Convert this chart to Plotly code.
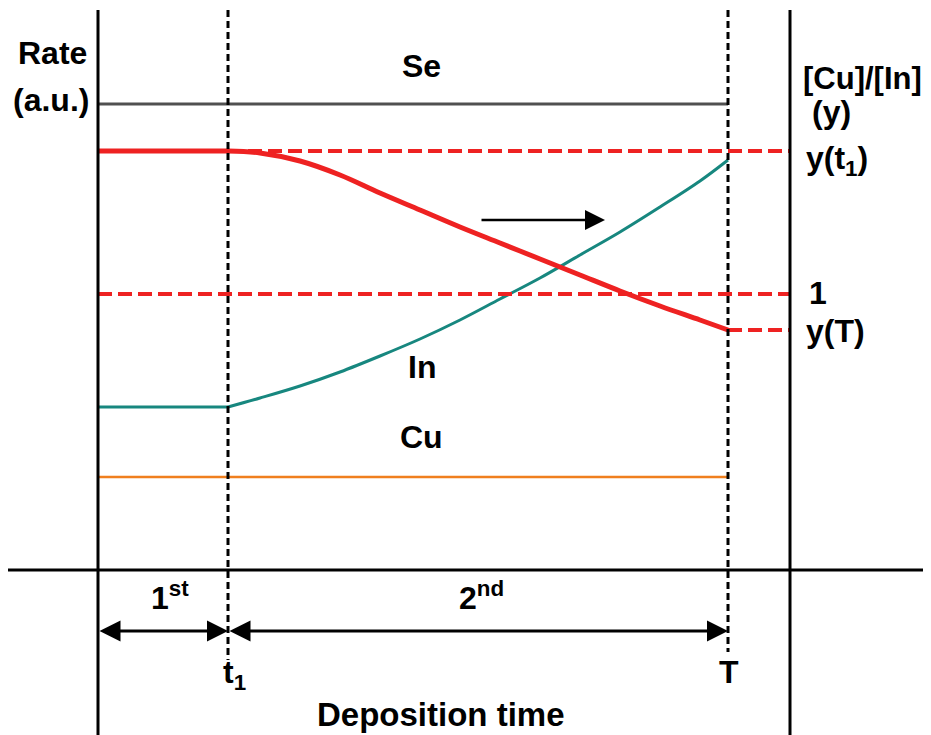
import plotly.graph_objects as go

# ---- schematic data (time axis units / rate axis units) ----
t_start = 98          # start of deposition (left axis)
t1 = 228              # end of 1st stage
t_end = 728           # end of deposition T
t_right = 790         # right axis position

rate_se = 104
rate_cu = 477
y_t1_level = 151      # [Cu]/[In] = y(t1)
y_one_level = 294     # [Cu]/[In] = 1
y_T_level = 330       # [Cu]/[In] = y(T)

# [Cu]/[In] ratio curve (red) during 2nd stage
ratio_t = [228, 260, 300, 340, 380, 420, 460, 500, 540, 580, 620, 660, 700, 728]
ratio_v = [151, 153, 161, 175, 193, 210, 227, 243, 259, 275, 291, 306, 320, 330]

# In rate curve (teal) during 2nd stage
in_t = [228, 260, 300, 340, 380, 420, 460, 500, 540, 580, 620, 660, 700, 728]
in_v = [407, 398, 386, 372, 356, 339, 320, 299, 278, 255, 232, 207, 181, 160]
in_rate_first = 407

FONT = "Liberation Sans"
RED = "#ee2222"
TEAL = "#17877f"
DASH_RED = "14px,6px"

# page body adds an 8px offset; compensate so data units map to screen pixels
OFF = 8

fig = go.Figure()

def line_trace(xs, ys, color, width, dash="solid", shape="linear"):
    fig.add_trace(go.Scatter(x=xs, y=ys, mode="lines",
                             line=dict(color=color, width=width, dash=dash, shape=shape,
                                       smoothing=1.0),
                             hoverinfo="skip"))

# Se rate
line_trace([t_start, t_end], [rate_se, rate_se], "#505050", 3)
# Cu rate
line_trace([t_start, t_end], [rate_cu, rate_cu], "#f07f1e", 2.5)
# In rate: constant in 1st stage, rising in 2nd stage
line_trace([t_start, t1], [in_rate_first, in_rate_first], TEAL, 3)
line_trace(in_t, in_v, TEAL, 3, shape="spline")
# dashed ratio reference levels
line_trace([t1, t_right], [y_t1_level, y_t1_level], RED, 4, DASH_RED)
line_trace([t_start, t_right], [y_one_level, y_one_level], RED, 4, DASH_RED)
line_trace([t_end, t_right], [y_T_level, y_T_level], RED, 4, DASH_RED)
# ratio curve
line_trace([t_start, t1], [y_t1_level, y_t1_level], RED, 5)
line_trace(ratio_t, ratio_v, RED, 5, shape="spline")

# axes lines
shapes = [
    dict(type="line", x0=t_start, x1=t_start, y0=10, y1=740, line=dict(color="black", width=3)),
    dict(type="line", x0=t_right, x1=t_right, y0=10, y1=740, line=dict(color="black", width=3)),
    dict(type="line", x0=0, x1=940, y0=570, y1=570, line=dict(color="black", width=3)),
    dict(type="line", x0=t1, x1=t1, y0=10, y1=660, line=dict(color="black", width=3, dash="7px,4px")),
    dict(type="line", x0=t_end, x1=t_end, y0=10, y1=652, line=dict(color="black", width=3, dash="7px,4px")),
]

def txt(x, y, s, size=32, xanchor="center", yanchor="middle"):
    return dict(x=x, y=y, xref="x", yref="y", text=s, showarrow=False,
                xanchor=xanchor, yanchor=yanchor,
                font=dict(family=FONT, size=size, color="black", weight="bold"))

ann = [
    txt(89, 53, "Rate", xanchor="right"),
    txt(91, 100, "(a.u.)", xanchor="right"),
    txt(421, 66, "Se"),
    txt(801, 78, "[Cu]/[In]", size=31, xanchor="left"),
    txt(831, 112, "(y)"),
    txt(804, 160, "y(t<sub>1</sub>)", xanchor="left"),
    txt(818, 293, "1"),
    txt(804, 331, "y(T)", xanchor="left"),
    txt(422, 367, "In"),
    txt(421, 437, "Cu"),
    txt(170, 596, "1<sup>st</sup>"),
    txt(481, 596, "2<sup>nd</sup>"),
    txt(234, 674, "t<sub>1</sub>"),
    txt(729, 672, "T"),
    txt(441, 714, "Deposition time", size=33),
]

# arrows
arrow_style = dict(xref="x", yref="y", axref="x", ayref="y", text="", showarrow=True,
                   arrowcolor="black")
ann.append(dict(x=t1, y=631, ax=t_start, ay=631, arrowhead=2, startarrowhead=2,
                arrowside="end+start", arrowwidth=3, arrowsize=1.4, startarrowsize=1.4,
                **arrow_style))
ann.append(dict(x=t_end, y=631, ax=t1, ay=631, arrowhead=2, startarrowhead=2,
                arrowside="end+start", arrowwidth=3, arrowsize=1.4, startarrowsize=1.4,
                **arrow_style))
ann.append(dict(x=605, y=220, ax=480, ay=220, arrowhead=2, arrowwidth=2.5, arrowsize=1.6,
                **arrow_style))

fig.update_layout(
    width=931 - OFF, height=735 - OFF,
    margin=dict(l=0, r=0, t=0, b=0),
    paper_bgcolor="white", plot_bgcolor="white",
    showlegend=False,
    xaxis=dict(range=[OFF, 931], visible=False, fixedrange=True),
    yaxis=dict(range=[735, OFF], visible=False, fixedrange=True),
    shapes=shapes,
    annotations=ann,
)

fig.write_html("out.html")
